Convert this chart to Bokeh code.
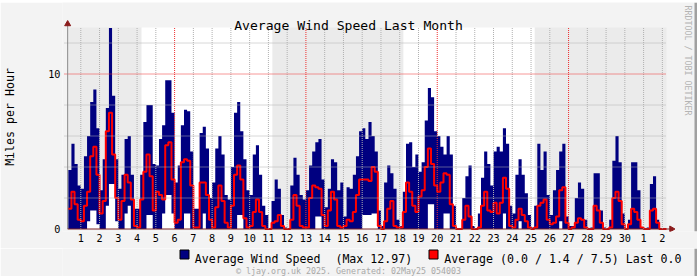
import numpy as np
from bokeh.plotting import figure
from bokeh.layouts import column
from bokeh.models import ColumnDataSource, FixedTicker, Label, Range1d
from bokeh.embed import file_html
from bokeh.resources import INLINE

# ---------------- data: wind speed (mph), 4-hour consolidation ----------------
SAMPLE_START = -4 / 6      # days relative to 1 Apr 00:00
SAMPLE_STEP = 1 / 6        # 4 hours

wind_max = [
    3.8, 5.5, 4.2, 2.8,                       # 31 Mar (tail)
    2.6, 4.7, 6.0, 8.2, 9.0, 6.5,             # 1
    2.5, 4.5, 7.8, 12.97, 8.6, 4.5,           # 2
    2.6, 3.5, 5.8, 6.0, 3.5, 1.3,             # 3
    1.3, 3.5, 6.9, 8.0, 8.0, 4.2,             # 4
    4.1, 5.8, 6.7, 9.6, 9.6, 7.5,             # 5
    3.0, 4.1, 6.7, 7.7, 7.6, 5.0,             # 6
    1.3, 1.3, 6.2, 6.6, 5.2, 2.0,             # 7
    3.0, 5.2, 6.0, 4.8, 2.2, 1.9,             # 8
    4.0, 7.5, 8.2, 6.3, 4.5, 2.5,             # 9
    2.2, 4.8, 5.4, 3.5, 1.5, 0.9,             # 10
    0.0, 1.8, 3.2, 2.6, 0.9, 0.1,             # 11
    0.0, 2.8, 4.6, 3.5, 2.2, 1.9,             # 12
    2.5, 4.1, 5.0, 5.6, 5.8, 3.2,             # 13
    1.4, 2.6, 4.5, 4.3, 2.5, 3.0,             # 14
    0.8, 2.7, 2.6, 3.5, 4.7, 6.3,             # 15
    6.5, 5.8, 6.9, 6.0, 5.0, 1.2,             # 16
    0.2, 3.0, 4.1, 3.6, 2.6, 0.6,             # 17
    0.2, 2.4, 5.5, 5.6, 4.0, 4.8,             # 18
    3.7, 4.3, 7.0, 9.1, 8.5, 6.3,             # 19
    6.0, 5.3, 4.8, 6.0, 4.8, 1.5,             # 20
    0.0, 0.0, 2.0, 3.4, 4.1, 0.2,             # 21
    0.0, 1.0, 3.3, 5.0, 4.2, 2.8,             # 22
    5.0, 5.3, 5.0, 6.5, 5.5, 1.5,             # 23
    1.0, 3.5, 4.5, 3.5, 2.3, 0.9,             # 24
    0.1, 1.5, 5.5, 3.8, 5.0, 2.2,             # 25
    0.9, 2.5, 3.8, 5.0, 5.5, 0.8,             # 26
    0.2, 0.2, 2.0, 3.0, 2.6, 0.6,             # 27
    0.0, 0.1, 3.6, 3.6, 1.2, 0.1,             # 28
    0.0, 0.6, 4.4, 6.0, 4.3, 1.0,             # 29
    0.0, 0.6, 4.3, 4.3, 2.5, 0.1,             # 30
    0.0, 0.1, 2.9, 3.4, 0.6, 0.0,             # 1 May
]

wind_min = [
    0.0, 0.0, 0.0, 0.0,
    0.0, 0.0, 0.5, 1.2, 1.2, 0.3,             # 1
    0.0, 0.0, 1.5, 2.9, 2.9, 0.5,             # 2
    0.0, 0.0, 1.0, 1.5, 0.0, 0.0,             # 3
    0.0, 0.0, 0.0, 0.9, 0.9, 0.0,             # 4
    0.0, 0.0, 1.0, 2.2, 2.2, 1.0,             # 5
    0.0, 0.0, 0.0, 1.0, 1.0, 0.0,             # 6
    0.0, 0.0, 0.0, 1.0, 0.0, 0.0,             # 7
    0.0, 0.0, 0.0, 0.0, 0.0, 0.0,             # 8
    0.0, 0.0, 0.9, 0.9, 0.0, 0.0,             # 9
    0.0, 0.0, 0.0, 0.0, 0.0, 0.0,             # 10
    0.0, 0.0, 0.0, 0.0, 0.0, 0.0,             # 11
    0.0, 0.0, 0.0, 0.0, 0.0, 0.0,             # 12
    0.0, 0.0, 0.0, 0.8, 0.8, 0.0,             # 13
    0.0, 0.0, 0.0, 0.0, 0.0, 0.0,             # 14
    0.0, 0.0, 0.0, 0.0, 0.0, 0.0,             # 15
    0.9, 0.9, 0.9, 1.0, 1.0, 0.0,             # 16
    0.0, 0.0, 0.0, 0.0, 0.0, 0.0,             # 17
    0.0, 0.0, 0.0, 0.0, 0.0, 0.0,             # 18
    0.0, 0.0, 0.0, 1.6, 1.6, 0.0,             # 19
    0.0, 0.0, 1.0, 1.0, 0.0, 0.0,             # 20
    0.0, 0.0, 0.0, 0.0, 0.0, 0.0,             # 21
    0.0, 0.0, 0.0, 0.0, 0.0, 0.0,             # 22
    0.0, 0.0, 0.0, 1.0, 0.0, 0.0,             # 23
    0.0, 0.0, 0.5, 0.0, 0.0, 0.0,             # 24
    0.0, 0.0, 0.0, 0.0, 0.0, 0.0,             # 25
    0.0, 0.0, 0.0, 0.5, 0.0, 0.0,             # 26
    0.0, 0.0, 0.0, 0.0, 0.0, 0.0,             # 27
    0.0, 0.0, 0.0, 0.0, 0.0, 0.0,             # 28
    0.0, 0.0, 0.0, 0.0, 0.0, 0.0,             # 29
    0.0, 0.0, 0.0, 0.0, 0.0, 0.0,             # 30
    0.0, 0.0, 0.0, 0.0, 0.0, 0.0,             # 1 May
]

wind_avg = [
    1.3, 2.4, 1.6, 0.6,
    0.5, 1.5, 2.4, 4.7, 5.3, 3.5,             # 1
    1.0, 1.8, 6.3, 7.5, 4.8, 2.0,             # 2
    0.6, 1.8, 3.5, 3.0, 1.9, 0.2,             # 3
    0.1, 1.9, 3.7, 4.8, 3.4, 1.2,             # 4
    2.4, 2.2, 1.9, 5.4, 5.6, 3.2,             # 5
    0.4, 0.6, 4.3, 4.5, 4.4, 2.8,             # 6
    0.1, 0.1, 3.0, 3.0, 2.2, 0.6,             # 7
    0.1, 1.4, 2.8, 1.8, 0.4, 0.1,             # 8
    1.5, 3.5, 4.1, 3.2, 0.7, 0.1,             # 9
    0.2, 1.1, 1.9, 1.1, 0.2, 0.0,             # 10
    0.0, 0.4, 0.5, 0.9, 0.2, 0.0,             # 11
    0.0, 0.6, 2.2, 1.5, 0.2, 0.1,             # 12
    0.1, 2.0, 2.8, 2.7, 2.6, 0.9,             # 13
    0.2, 1.2, 2.4, 1.9, 0.2, 0.1,             # 14
    0.2, 0.6, 0.5, 1.1, 2.2, 3.2,             # 15
    3.2, 3.2, 3.1, 4.0, 3.7, 0.2,             # 16
    0.0, 0.5, 1.3, 1.8, 0.2, 0.1,             # 17
    0.1, 1.1, 3.0, 2.4, 1.5, 1.1,             # 18
    2.1, 2.5, 4.0, 5.2, 4.2, 2.8,             # 19
    2.4, 3.0, 3.6, 3.5, 1.6, 0.2,             # 20
    0.0, 0.0, 0.6, 1.5, 0.8, 0.0,             # 21
    0.0, 0.1, 1.5, 2.4, 1.2, 1.1,             # 22
    1.7, 1.0, 1.7, 3.3, 2.6, 0.2,             # 23
    0.1, 0.6, 1.3, 0.9, 0.5, 0.1,             # 24
    0.0, 0.1, 1.5, 1.7, 1.9, 0.6,             # 25
    0.3, 0.4, 0.8, 2.5, 2.7, 0.4,             # 26
    0.0, 0.1, 0.4, 0.7, 0.6, 0.1,             # 27
    0.0, 0.0, 1.5, 1.2, 0.4, 0.0,             # 28
    0.0, 0.1, 2.0, 2.4, 1.8, 0.3,             # 29
    0.0, 0.3, 1.3, 1.1, 0.6, 0.1,             # 30
    0.0, 0.0, 1.2, 1.3, 0.4, 0.0,             # 1 May
]

# axis ticks / labels
day_ticks = list(range(32))
day_labels = [str(i) for i in range(1, 31)] + ["1", "2"]
week_ticks = [5, 12, 19, 26]
y_label_ticks = [0, 10]
y_minor_ticks = [2, 4, 6, 8, 12]
y_major_grid = [10]
band_edges = [-0.70, 3.24, 10.22, 17.2, 24.2, 31.22]

title_text = "Average Wind Speed Last Month"
legend_1 = "Average Wind Speed"
legend_1b = "(Max 12.97)"
legend_2 = "Average (0.0 / 1.4 / 7.5) Last 0.0"
footer_text = "\u00a9 ljay.org.uk 2025. Generated: 02May25 054003"
side_text = "RRDTOOL / TOBI OETIKER"

# ---------------- styling / geometry ----------------
FONT = "DejaVu Sans Mono"
CANVAS = "#f3f3f3"
BAND_SHADE = "#ebebeb"
BAND_CLEAR = "#ffffff"
BLUE = "#000080"
RED = "#ff0000"
GRID_GRAY = "#b0b0b0"
GRID_RED = "#ee3030"
AXIS_X = "#7d2222"
AXIS_Y = "#8a8a8a"
ARROW = "#8b1c1c"
EDGE_DARK = "#a0a0a0"
EDGE_LIGHT = "#d2d2d2"

W, H = 697, 279
TOP_EDGE, BOTTOM_EDGE = 2, 3  # canvas edge strips (px)
H1 = 248                      # bottom of main figure (px, canvas coords)
H2 = H - BOTTOM_EDGE          # bottom of legend strip
FL, FB = 62, 231              # main frame: left edge, bottom edge (px)
PX0, PXD = 80.3, 18.76        # px of day 0, px per day
PY0, PYU = 228.5, 15.5        # px of value 0, px per mph


def xv(px):   # pixel -> day coordinate
    return (px - PX0) / PXD


def yv(py):   # pixel -> mph coordinate
    return (PY0 - py) / PYU


PLOT_X0, PLOT_X1, PLOT_Y1 = band_edges[0], band_edges[-1], 13.0

t = SAMPLE_START + np.arange(len(wind_max) + 1) * SAMPLE_STEP
src = ColumnDataSource(dict(
    t=t,
    vmax=np.array(wind_max + [0.0]),
    vmin=np.array(wind_min + [0.0]),
    vavg=np.array(wind_avg + [0.0]),
))


def edge_strip(height, color):
    f = figure(width=W, height=height, output_backend="svg", toolbar_location=None,
               x_axis_location=None, y_axis_location=None, title=None,
               min_border=0, min_border_left=FL, min_border_right=0,
               min_border_top=0, min_border_bottom=0)
    f.grid.visible = False
    f.background_fill_color = color
    f.border_fill_color = color
    f.outline_line_color = None
    return f


top_strip = edge_strip(TOP_EDGE, EDGE_LIGHT)
bottom_strip = edge_strip(BOTTOM_EDGE, EDGE_DARK)

p = figure(width=W, height=H1 - TOP_EDGE, output_backend="svg", toolbar_location=None,
           x_range=Range1d(xv(FL), xv(W)), y_range=Range1d(yv(FB), yv(TOP_EDGE)),
           min_border_left=FL, min_border_right=0,
           min_border_top=0, min_border_bottom=H1 - FB, title=None)
p.background_fill_color = CANVAS
p.border_fill_color = CANVAS
p.outline_line_color = None
p.xgrid.visible = False
p.ygrid.visible = False

# background week bands
lefts = band_edges[:-1]
rights = band_edges[1:]
band_colors = [BAND_SHADE if i % 2 == 0 else BAND_CLEAR for i in range(len(lefts))]
p.quad(left=lefts, right=rights, bottom=0, top=PLOT_Y1, fill_color=band_colors, line_color=None)

# data: max area, min area (white), average line
p.varea_step(x="t", y1=0, y2="vmax", step_mode="after", source=src, fill_color=BLUE)
p.varea_step(x="t", y1=0, y2="vmin", step_mode="after", source=src, fill_color="white")
p.step(x=list(t) + [PLOT_X1], y=list(src.data["vavg"]) + [0.0], mode="after",
       line_color=RED, line_width=2)

# grid on top (rrdtool style)
gray_days = [d for d in day_ticks if d not in week_ticks]
p.segment(x0=gray_days, x1=gray_days, y0=0, y1=PLOT_Y1, line_color=GRID_GRAY, line_dash="1 1", line_width=1)
p.segment(x0=week_ticks, x1=week_ticks, y0=0, y1=PLOT_Y1, line_color=GRID_RED, line_dash="1 1", line_width=1)
p.segment(x0=xv(64), x1=PLOT_X1, y0=y_minor_ticks, y1=y_minor_ticks, line_color=GRID_GRAY, line_dash="1 1", line_width=1)
p.segment(x0=xv(64), x1=PLOT_X1, y0=y_major_grid, y1=y_major_grid, line_color=GRID_RED, line_dash="1 1", line_width=1)

# axis lines + arrows
p.segment(x0=[PLOT_X0], x1=[PLOT_X0], y0=[0], y1=[yv(22)], line_color=AXIS_Y, line_width=1)
p.segment(x0=[PLOT_X0], x1=[xv(670)], y0=[0], y1=[0], line_color=AXIS_X, line_width=1)
p.scatter(x=[PLOT_X0], y=[yv(23.5)], marker="triangle", size=6, fill_color=ARROW, line_color=ARROW)
p.scatter(x=[xv(671)], y=[0], marker="triangle", angle=-np.pi / 2, size=6, fill_color=ARROW, line_color=ARROW)

# right canvas edge inside the main frame
p.quad(left=[xv(W - 3)], right=[xv(W)], bottom=[yv(FB)], top=[yv(TOP_EDGE)],
       fill_color=EDGE_DARK, line_color=None)

# axes (labels only)
xa = p.xaxis[0]
xa.ticker = FixedTicker(ticks=day_ticks, minor_ticks=[])
xa.major_label_overrides = {d: lab for d, lab in zip(day_ticks, day_labels)}
xa.axis_line_color = None
xa.major_tick_line_color = None
xa.minor_tick_line_color = None
xa.major_tick_out = 0
xa.major_label_standoff = 2
xa.major_label_text_font = FONT
xa.major_label_text_font_size = "10.2px"
xa.major_label_text_color = "#000000"

ya = p.yaxis[0]
ya.ticker = FixedTicker(ticks=y_label_ticks, minor_ticks=[])
ya.axis_line_color = None
ya.major_tick_line_color = None
ya.minor_tick_line_color = None
ya.major_tick_out = 0
ya.major_label_standoff = 2
ya.major_label_text_font = FONT
ya.major_label_text_font_size = "10.2px"
ya.major_label_text_color = "#000000"
ya.axis_label = "Miles per Hour"
ya.axis_label_text_font = FONT
ya.axis_label_text_font_size = "11.6px"
ya.axis_label_text_font_style = "normal"
ya.axis_label_text_color = "#000000"
ya.axis_label_standoff = 28


def frame_label(fig, text, px, py, size, color="#000000", align="left", angle=0.0, baseline="alphabetic"):
    fig.add_layout(Label(x=px - FL, y=FB - py, x_units="screen", y_units="screen", text=text,
                         text_font=FONT, text_font_size=size, text_color=color,
                         text_align=align, text_baseline=baseline, angle=angle))


frame_label(p, title_text, 348, 24.5, "13.1px", align="center")
frame_label(p, side_text, 687, 60, "8.3px", color="#b4b4b4", align="center",
            angle=-np.pi / 2, baseline="middle")

# ---------------- legend strip (second figure; frame aligned with the main one) ----------------
q = figure(width=W, height=H2 - H1, output_backend="svg", toolbar_location=None,
           x_range=Range1d(FL, W), y_range=Range1d(H2, H1),
           x_axis_location=None, y_axis_location=None,
           min_border=0, min_border_left=FL, min_border_right=0, min_border_top=0,
           min_border_bottom=0, title=None)
q.grid.visible = False
q.background_fill_color = CANVAS
q.border_fill_color = CANVAS
q.outline_line_color = None

swatch_left = [179.5, 428.5]
q.quad(left=swatch_left, right=[s + 9 for s in swatch_left], top=[249.5, 249.5], bottom=[258.5, 258.5],
       fill_color=[BLUE, RED], line_color="black", line_width=1)
q.quad(left=[W - 3], right=[W], top=[H1], bottom=[H2], fill_color=EDGE_DARK, line_color=None)


def strip_label(text, px, py, size, color="#000000", align="left"):
    q.add_layout(Label(x=px, y=py, text=text, text_font=FONT, text_font_size=size,
                       text_color=color, text_align=align, text_baseline="alphabetic"))


strip_label(legend_1, 194.3, 258.3, "11.6px")
strip_label(legend_1b, 334.9, 258.3, "11.6px")
strip_label(legend_2, 443.7, 258.3, "11.6px")
strip_label(footer_text, 348, 270.5, "8.3px", color="#a8a8a8", align="center")

layout = column(top_strip, p, q, bottom_strip, spacing=0)
open("out.html", "w").write(file_html(layout, INLINE))
